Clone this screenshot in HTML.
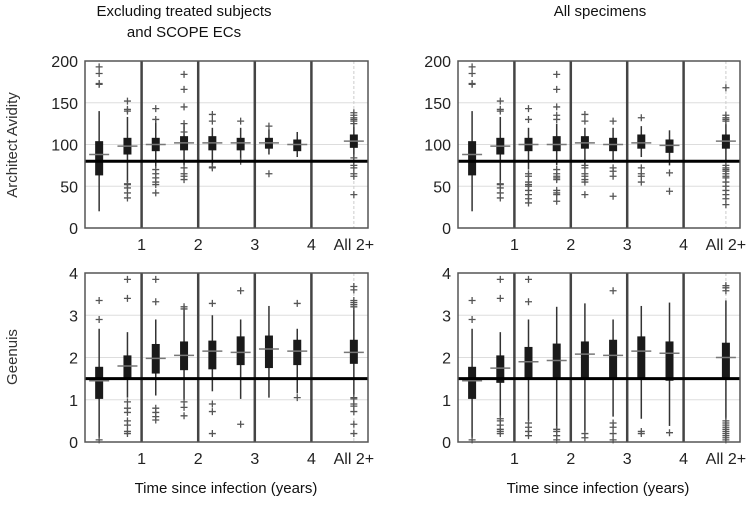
<!DOCTYPE html>
<html><head><meta charset="utf-8">
<style>
html,body{margin:0;padding:0;background:#fff;}
svg{display:block;font-family:"Liberation Sans",sans-serif;}
</style></head>
<body>
<svg id="chart" width="750" height="505" viewBox="0 0 750 505" xmlns="http://www.w3.org/2000/svg">
<text x="184" y="16" text-anchor="middle" font-size="15" fill="#111">Excluding treated subjects</text>
<text x="184" y="37" text-anchor="middle" font-size="15" fill="#111">and SCOPE ECs</text>
<text x="600" y="16" text-anchor="middle" font-size="15" fill="#111">All specimens</text>
<text transform="translate(17,145) rotate(-90)" text-anchor="middle" font-size="15" fill="#333">Architect Avidity</text>
<text transform="translate(17,357) rotate(-90)" text-anchor="middle" font-size="15" fill="#333">Geenuis</text>
<text x="226" y="493" text-anchor="middle" font-size="15" fill="#111">Time since infection (years)</text>
<text x="598" y="493" text-anchor="middle" font-size="15" fill="#111">Time since infection (years)</text>
</svg>
<script>
// categories (x positions in years) and tick labels
const positions = [0.25,0.75,1.25,1.75,2.25,2.75,3.25,3.75,4.75];
const xTickValues = [1,2,3,4,4.75];
const xTickLabels = ["1","2","3","4","All 2+"];
const avidityTicks = [0,50,100,150,200];
const geeniusTicks = [0,1,2,3,4];
const avidityThreshold = 80;
const geeniusThreshold = 1.5;

// box stats: [whiskerLow, q1, median, q3, whiskerHigh]
const tlStats = [[20,63,88,104,140],[55,88,98,108,133],[72,92,100,108,130],[75,93,102,110,125],[75,93,102,110,120],[82,93,102,108,120],[88,95,102,108,118],[85,92,100,106,115],[85,96,104,112,125]];
const tlOut = [[172,173,185,193],[36,42,48,52,53,140,142,152],[42,52,55,60,65,70,130,143],[58,62,65,72,115,125,145,166,184],[72,73,128,136],[80,128],[65,122],[],[40,62,65,72,75,80,84,125,128,130,132,135,138]];
const trStats = [[20,63,88,104,140],[55,88,98,108,133],[70,92,100,108,120],[75,92,100,110,125],[75,95,102,110,120],[80,92,100,108,120],[85,95,102,112,122],[75,90,99,106,117],[80,95,104,112,125]];
const trOut = [[172,173,185,193],[36,42,48,52,53,140,142,152],[30,35,40,45,50,52,55,62,65,130,143],[32,40,42,45,58,60,62,65,70,130,135,145,166,184],[40,55,58,62,65,72,75,128,136],[38,62,68,72,128],[55,62,65,72,132],[44,66],[28,35,40,45,50,55,60,62,65,68,70,72,75,128,130,132,135,168]];
const blStats = [[0.1,1.02,1.45,1.78,2.68],[1.05,1.5,1.8,2.05,2.6],[1.1,1.62,1.98,2.32,2.9],[1.0,1.7,2.05,2.38,3.15],[1.2,1.72,2.15,2.4,3.0],[1.02,1.82,2.12,2.5,2.9],[1.05,1.75,2.2,2.52,3.22],[1.15,1.82,2.15,2.42,2.68],[1.1,1.85,2.12,2.42,3.2]];
const blOut = [[0.05,2.9,3.35],[0.2,0.25,0.4,0.5,0.7,0.8,0.95,3.4,3.85],[0.52,0.6,0.7,0.8,3.32,3.85],[0.62,0.82,0.95,3.15,3.2],[0.2,0.72,0.9,3.28],[0.42,3.58],[],[1.05,3.28],[0.2,0.42,0.72,0.85,0.9,1.02,1.05,3.2,3.25,3.3,3.35,3.6,3.68]];
const brStats = [[0.1,1.02,1.45,1.78,2.68],[0.6,1.4,1.75,2.05,2.6],[0.5,1.5,1.9,2.25,2.9],[0.3,1.5,1.93,2.33,3.2],[0.25,1.5,2.08,2.38,3.28],[0.6,1.5,2.05,2.42,2.9],[0.55,1.5,2.15,2.5,3.22],[0.38,1.45,2.1,2.38,3.3],[0.55,1.5,2.0,2.35,3.35]];
const brOut = [[0.05,2.9,3.35],[0.2,0.25,0.3,0.4,0.5,0.55,3.4,3.85],[0.15,0.25,0.35,0.45,3.32,3.85],[0.05,0.15,0.25,0.3],[0.1,0.2],[0.05,0.2,0.35,0.45,3.58],[0.2,0.25],[0.22],[0.05,0.1,0.15,0.2,0.25,0.3,0.35,0.4,0.45,0.5,3.58,3.65,3.7]];

const NS="http://www.w3.org/2000/svg";
const svg=document.getElementById('chart');
function mk(tag,attrs,parent){const e=document.createElementNS(NS,tag);for(const k in attrs)e.setAttribute(k,attrs[k]);(parent||svg).appendChild(e);return e;}

function panel(name,x0,x1,y0,y1,ymax,yticks,stats,outs,thr){
  const g=mk('g',{});
  
  
  const sx=v=>x0+(x1-x0)*v/5;
  const sy=v=>y1-(y1-y0)*v/ymax;
  yticks.forEach(t=>{
    if(t>0&&t<ymax){const gl=mk('line',{x1:x0,x2:x1,y1:sy(t),y2:sy(t),stroke:'#ddd','stroke-width':1},g);
    
    }
    const tl=mk('text',{x:x0-7,y:sy(t)+6,'text-anchor':'end','font-size':16,fill:'#222'},g);
    tl.textContent=t;
    
    
  });
  const vg=mk('line',{x1:sx(4.75),x2:sx(4.75),y1:y0,y2:y1,stroke:'#ccc','stroke-width':1,'stroke-dasharray':'3,2'},g);
  
  
  xTickValues.forEach((t,i)=>{
    const tl=mk('text',{x:sx(t),y:y1+22,'text-anchor':'middle','font-size':16,fill:'#222'},g);
    tl.textContent=xTickLabels[i];
    
    
    if(t<=4){const d=mk('line',{x1:sx(t),x2:sx(t),y1:y0,y2:y1,stroke:'#444','stroke-width':2.5},g);
    
    }
  });
  positions.forEach((p,i)=>{
    const s=stats[i],cx=sx(p);
    const w=mk('line',{x1:cx,x2:cx,y1:sy(s[0]),y2:sy(s[4]),stroke:'#333','stroke-width':1.5},g);
    
    
    const b=mk('rect',{x:cx-4,y:sy(s[3]),width:8,height:sy(s[1])-sy(s[3]),fill:'#1a1a1a'},g);
    
    
    const m=mk('line',{x1:cx-10,x2:cx+10,y1:sy(s[2]),y2:sy(s[2]),stroke:'#777','stroke-width':1.5},g);
    
    
    outs[i].forEach(o=>{
      const y=sy(o);
      const pt=mk('path',{d:`M${cx-3.5},${y}H${cx+3.5}M${cx},${y-3.5}V${y+3.5}`,stroke:'#555','stroke-width':1.3},g);
      
      
    });
  });
  const th=mk('line',{x1:x0,x2:x1,y1:sy(thr),y2:sy(thr),stroke:'#000','stroke-width':3},g);
  
  
  const fr=mk('rect',{x:x0,y:y0,width:x1-x0,height:y1-y0,fill:'none',stroke:'#555','stroke-width':1.5},g);
  
  
}
panel('avidity-excluding-panel',85,368,61,228,200,avidityTicks,tlStats,tlOut,avidityThreshold);
panel('avidity-all-panel',458,740,61,228,200,avidityTicks,trStats,trOut,avidityThreshold);
panel('geenius-excluding-panel',85,368,273,442,4,geeniusTicks,blStats,blOut,geeniusThreshold);
panel('geenius-all-panel',458,740,273,442,4,geeniusTicks,brStats,brOut,geeniusThreshold);
</script>
</body></html>
